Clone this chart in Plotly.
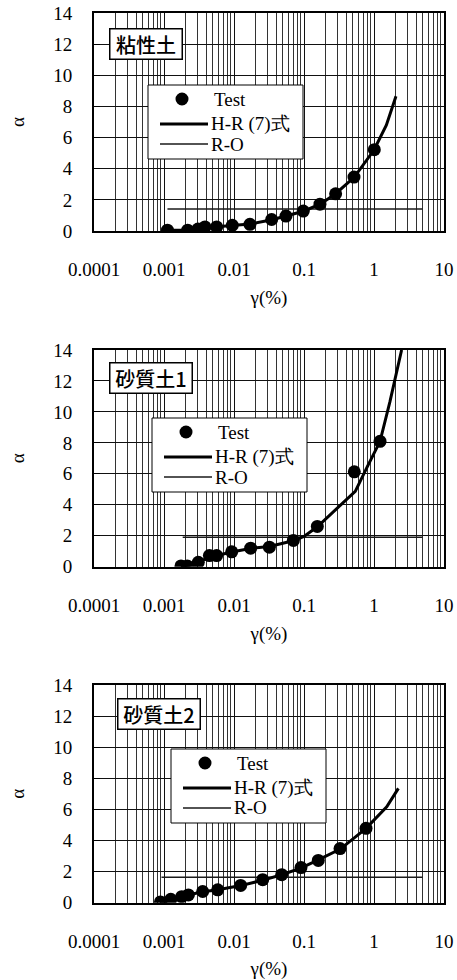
import plotly.graph_objects as go

# ---------------- data ----------------
panel_labels = ["粘性土", "砂質土1", "砂質土2"]

# Panel 1: 粘性土
test_x1 = [0.00112, 0.00218, 0.00306, 0.00385, 0.00565, 0.00946, 0.0169, 0.0345, 0.0553, 0.0977, 0.169, 0.283, 0.518, 1.01]
test_y1 = [0.05, 0.05, 0.13, 0.26, 0.26, 0.37, 0.43, 0.74, 0.96, 1.28, 1.72, 2.39, 3.46, 5.22]
hr_x1 = [0.00112, 0.0022, 0.0031, 0.0039, 0.0057, 0.0095, 0.017, 0.035, 0.055, 0.098, 0.17, 0.28, 0.52, 1.0, 1.5, 2.06]
hr_y1 = [0.05, 0.07, 0.15, 0.25, 0.28, 0.37, 0.45, 0.72, 0.95, 1.27, 1.72, 2.38, 3.45, 5.2, 6.8, 8.65]
ro_x1 = [0.00112, 4.95]
ro_y1 = [1.42, 1.42]

# Panel 2: 砂質土1
test_x2 = [0.00175, 0.00215, 0.00309, 0.00445, 0.00565, 0.00927, 0.0173, 0.032, 0.0705, 0.155, 0.523, 1.22]
test_y2 = [0.05, 0.05, 0.28, 0.72, 0.72, 0.96, 1.2, 1.26, 1.7, 2.6, 6.13, 8.1]
hr_x2 = [0.00175, 0.0022, 0.0031, 0.0045, 0.0057, 0.0093, 0.017, 0.032, 0.07, 0.1, 0.155, 0.3, 0.54, 0.8, 1.22, 1.69, 2.0, 2.48]
hr_y2 = [0.03, 0.06, 0.3, 0.62, 0.72, 0.95, 1.18, 1.3, 1.68, 1.95, 2.58, 3.8, 4.87, 6.45, 8.1, 10.66, 12.1, 14.0]
ro_x2 = [0.00185, 4.95]
ro_y2 = [1.91, 1.91]

# Panel 3: 砂質土2
test_x3 = [0.00089, 0.00125, 0.00179, 0.00223, 0.00357, 0.00585, 0.01245, 0.0257, 0.048, 0.0906, 0.16, 0.327, 0.769]
test_y3 = [0.05, 0.22, 0.39, 0.5, 0.72, 0.83, 1.11, 1.48, 1.8, 2.26, 2.72, 3.48, 4.78]
hr_x3 = [0.00089, 0.00125, 0.0018, 0.0022, 0.0036, 0.0059, 0.0125, 0.026, 0.048, 0.09, 0.16, 0.33, 0.77, 1.52, 2.23]
hr_y3 = [0.0, 0.18, 0.38, 0.5, 0.7, 0.83, 1.1, 1.45, 1.8, 2.22, 2.75, 3.45, 4.78, 6.16, 7.35]
ro_x3 = [0.00092, 4.95]
ro_y3 = [1.63, 1.63]

legend_names = ["Test", "H-R (7)式", "R-O"]

# ---------------- layout helpers ----------------
W, H = 457, 980
PL, PR = 94, 444                      # plot left/right in px
panels_px = [(13, 231), (350, 566.7), (685, 902.7)]   # top/bottom px
legend_px = [(148, 85), (152, 418), (171, 749)]       # legend box top-left px
label_px = [(109, 28), (109, 362), (117, 698)]        # label box top-left px
label_w = [68, 78, 78]                                # label box inner width px

SERIF = "Liberation Serif"
SANS = "Noto Sans CJK JP"

data = [
    (test_x1, test_y1, hr_x1, hr_y1, ro_x1, ro_y1),
    (test_x2, test_y2, hr_x2, hr_y2, ro_x2, ro_y2),
    (test_x3, test_y3, hr_x3, hr_y3, ro_x3, ro_y3),
]

fig = go.Figure()
shapes = []
annotations = []

for i, (tx, ty, hx, hy, rx, ry) in enumerate(data):
    n = "" if i == 0 else str(i + 1)
    xa, ya = "x" + n, "y" + n
    top, bot = panels_px[i]
    ph = bot - top
    pw = PR - PL

    fig.add_trace(go.Scatter(x=rx, y=ry, mode="lines", line=dict(color="#1a1a1a", width=1.5),
                             xaxis=xa, yaxis=ya, showlegend=False, name=legend_names[2]))
    fig.add_trace(go.Scatter(x=hx, y=hy, mode="lines", line=dict(color="black", width=3),
                             xaxis=xa, yaxis=ya, showlegend=False, name=legend_names[1]))
    fig.add_trace(go.Scatter(x=tx, y=ty, mode="markers", marker=dict(color="black", size=13),
                             xaxis=xa, yaxis=ya, showlegend=False, name=legend_names[0]))

    axis_common = dict(showline=True, linecolor="black", linewidth=2, mirror=True, automargin=False,
                       tickfont=dict(family=SERIF, size=19, color="black"))
    fig.update_layout(**{
        "xaxis" + n: dict(type="log", range=[-4, 1], domain=[PL / W, PR / W], anchor=ya,
                          dtick=1, tickformat="~g", ticks="",
                          showgrid=True, gridcolor="#111", gridwidth=1,
                          minor=dict(dtick="D1", showgrid=True, gridcolor="#333", gridwidth=1, ticks=""),
                          ticklabelstandoff=20,
                          title=dict(text="γ(%)", font=dict(family=SERIF, size=19, color="black"), standoff=12),
                          **axis_common),
        "yaxis" + n: dict(range=[0, 14], dtick=2, domain=[1 - bot / H, 1 - top / H], anchor=xa,
                          showgrid=True, gridcolor="#111", gridwidth=1, zeroline=False,
                          ticks="inside", ticklen=6, tickcolor="black", ticklabelstandoff=16,
                          title=dict(text="α", font=dict(family=SERIF, size=19, color="black"), standoff=24),
                          **axis_common),
    })

    def fx(px):
        return (px - PL) / pw

    def fy(py):
        return (bot - py) / ph

    # panel label box
    lx, ly = label_px[i]
    annotations.append(dict(xref=xa + " domain", yref=ya + " domain", x=fx(lx), y=fy(ly),
                            xanchor="left", yanchor="top", showarrow=False, text=panel_labels[i],
                            width=label_w[i], height=26, align="center", valign="middle",
                            font=dict(family=SANS, size=20, color="black", weight=500), bgcolor="white",
                            bordercolor="black", borderwidth=1.5, borderpad=1.5))

    # legend box
    gx, gy = legend_px[i]
    shapes.append(dict(type="rect", xref=xa + " domain", yref=ya + " domain",
                       x0=fx(gx), x1=fx(gx + 155), y0=fy(gy), y1=fy(gy + 74),
                       fillcolor="white", line=dict(color="black", width=1), layer="above"))
    shapes.append(dict(type="circle", xref=xa + " domain", yref=ya + " domain",
                       xsizemode="pixel", ysizemode="pixel", xanchor=fx(gx + 34), yanchor=fy(gy + 14),
                       x0=-6.5, x1=6.5, y0=-6.5, y1=6.5, fillcolor="black",
                       line=dict(color="black", width=0), layer="above"))
    shapes.append(dict(type="line", xref=xa + " domain", yref=ya + " domain",
                       x0=fx(gx + 12), x1=fx(gx + 60), y0=fy(gy + 39), y1=fy(gy + 39),
                       line=dict(color="black", width=3), layer="above"))
    shapes.append(dict(type="line", xref=xa + " domain", yref=ya + " domain",
                       x0=fx(gx + 12), x1=fx(gx + 60), y0=fy(gy + 59), y1=fy(gy + 59),
                       line=dict(color="#1a1a1a", width=1.5), layer="above"))
    for k, dy in enumerate([14, 39, 59]):
        tx0 = gx + 64 if k == 0 else gx + 61
        annotations.append(dict(xref=xa + " domain", yref=ya + " domain", x=fx(tx0), y=fy(gy + dy),
                                xanchor="left", yanchor="middle", showarrow=False,
                                text=legend_names[k],
                                font=dict(family=SERIF, size=19, color="black")))

fig.update_layout(width=W, height=H, margin=dict(l=0, r=0, t=0, b=0),
                  paper_bgcolor="white", plot_bgcolor="white", showlegend=False,
                  font=dict(family=SERIF, color="black"),
                  shapes=shapes, annotations=annotations)

fig.write_html("out.html")
